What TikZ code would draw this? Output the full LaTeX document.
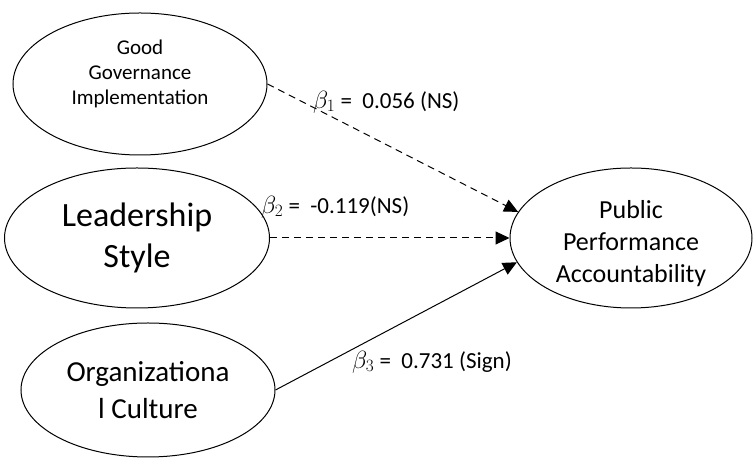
\documentclass[tikz,border=0pt]{standalone}
\usepackage{fontspec}
\setmainfont{Carlito}
\usetikzlibrary{shapes.geometric, arrows.meta}

\tikzset{
	latent/.style={draw, ellipse, line width=1pt, inner sep=0pt, align=center},
	path ns/.style={line width=1pt, dash pattern=on 7pt off 5pt, arrows={-Triangle[length=14pt, width=13pt]}},
	path sig/.style={line width=1pt, arrows={-Triangle[length=14pt, width=13pt]}},
	coef/.style={anchor=west, inner sep=0pt, font=\fontsize{23}{28}\selectfont}
}

\begin{document}
\begin{tikzpicture}[x=1pt, y=1pt]
	\useasboundingbox (0,0) rectangle (753,460);
	% constructs
	\node [latent, minimum width=254pt, minimum height=142pt, font=\fontsize{21}{25}\selectfont] (gg) at (140,376) {\raisebox{4pt}[0pt][0pt]{\begin{tabular}{@{}c@{}}Good\\Governance\\Implementation\end{tabular}}};
	\node [latent, minimum width=265pt, minimum height=140pt, font=\fontsize{34}{41}\selectfont] (ls) at (137,222) {Leadership\\Style};
	\node [latent, minimum width=254pt, minimum height=134pt, font=\fontsize{29}{37}\selectfont] (oc) at (148,70) {Organizationa\\l Culture};
	\node [latent, minimum width=242pt, minimum height=140pt, font=\fontsize{26}{32}\selectfont] (ppa) at (631,222) {\raisebox{-12pt}[0pt][0pt]{\begin{tabular}{@{}c@{}}Public\\Performance\\Accountability\end{tabular}}};
	% paths
	\draw [path ns] (gg.east) -- (ppa.167);
	\draw [path ns] (ls.east) -- (ppa.west);
	\draw [path sig] (oc.east) -- (ppa.192);
	% coefficients
	\node [coef] (b1) at (313,358) {$\beta_1$ =~~0.056 (NS)};
	\node [coef] (b2) at (261,253) {$\beta_2$ =~~-0.119(NS)};
	\node [coef] (b3) at (352,98) {$\beta_3$ =~~0.731 (Sign)};
\end{tikzpicture}
\end{document}
